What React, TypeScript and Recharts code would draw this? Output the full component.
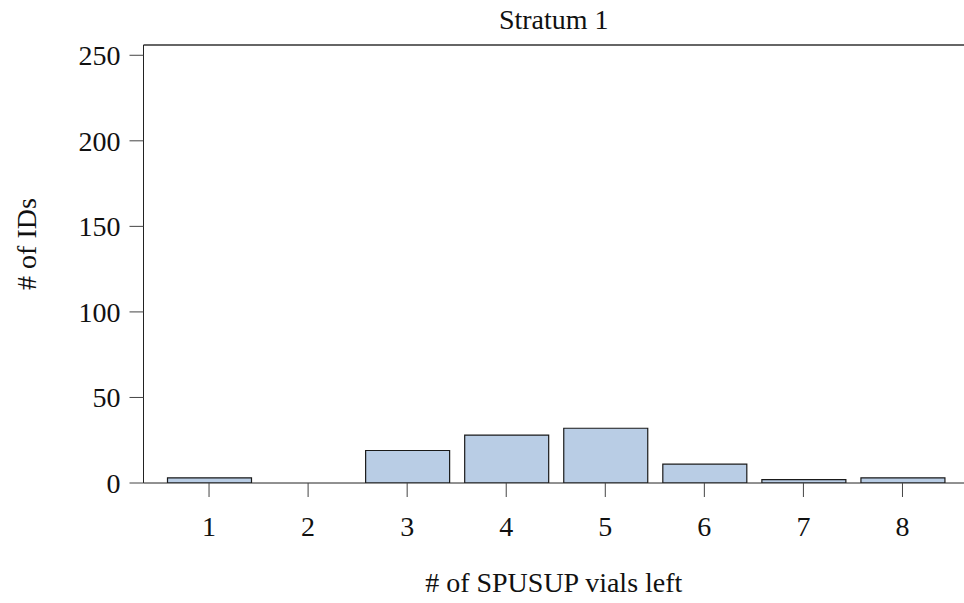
import { BarChart, Bar, XAxis, YAxis, ReferenceLine } from 'recharts';

const vialsLeft = ['1', '2', '3', '4', '5', '6', '7', '8'];
const idCounts = [3, 0, 19, 28, 32, 11, 2, 3];
const yTicks = [0, 50, 100, 150, 200, 250];

const data = vialsLeft.map((v, i) => ({ vials: v, ids: idCounts[i] }));

const font = '"Liberation Serif", "Times New Roman", serif';
const tickStyle = { fill: '#111', fontSize: 28, fontFamily: font };
const labelStyle = { fontFamily: font, fontSize: 28 };

const YTitle = (props: any) => {
  const vb = props.viewBox;
  const cx = vb.x + 26;
  const cy = vb.y + vb.height / 2 - 20;
  return (
    <text
      x={cx}
      y={cy}
      transform={`rotate(-90, ${cx}, ${cy})`}
      textAnchor="middle"
      dominantBaseline="central"
      fill="#111"
      fontSize={28}
      fontFamily={font}
      style={labelStyle}
    >
      # of IDs
    </text>
  );
};

export default function App() {
  return (
    <div style={{ position: 'absolute', left: 0, top: 0, background: '#fff', fontFamily: font }}>
      <BarChart width={964} height={603} data={data} margin={{ top: 45, right: 0, left: 0, bottom: 0 }}>
        <XAxis
          dataKey="vials"
          height={120}
          padding={{ left: 16, right: 12 }}
          stroke="#222"
          tickLine={{ stroke: '#444' }}
          tickSize={14}
          tickMargin={19}
          tick={tickStyle}
          label={{
            value: '# of SPUSUP vials left',
            position: 'insideBottom',
            offset: 11,
            fill: '#111',
            fontSize: 28,
            fontFamily: font,
            style: labelStyle,
          }}
        />
        <YAxis
          width={143.5}
          domain={[0, 256]}
          ticks={yTicks}
          allowDataOverflow
          stroke="#222"
          tickLine={{ stroke: '#444' }}
          tickSize={14}
          tickMargin={9}
          tick={tickStyle}
          label={<YTitle />}
        />
        <ReferenceLine
          y={256}
          stroke="#333"
          strokeWidth={1.5}
          label={{
            value: 'Stratum 1',
            position: 'top',
            offset: 16,
            fill: '#111',
            fontSize: 28,
            fontFamily: font,
            style: labelStyle,
          }}
        />
        <Bar dataKey="ids" barSize={84} fill="#b9cde5" stroke="#1a1a1a" strokeWidth={1.2} isAnimationActive={false} />
      </BarChart>
    </div>
  );
}
